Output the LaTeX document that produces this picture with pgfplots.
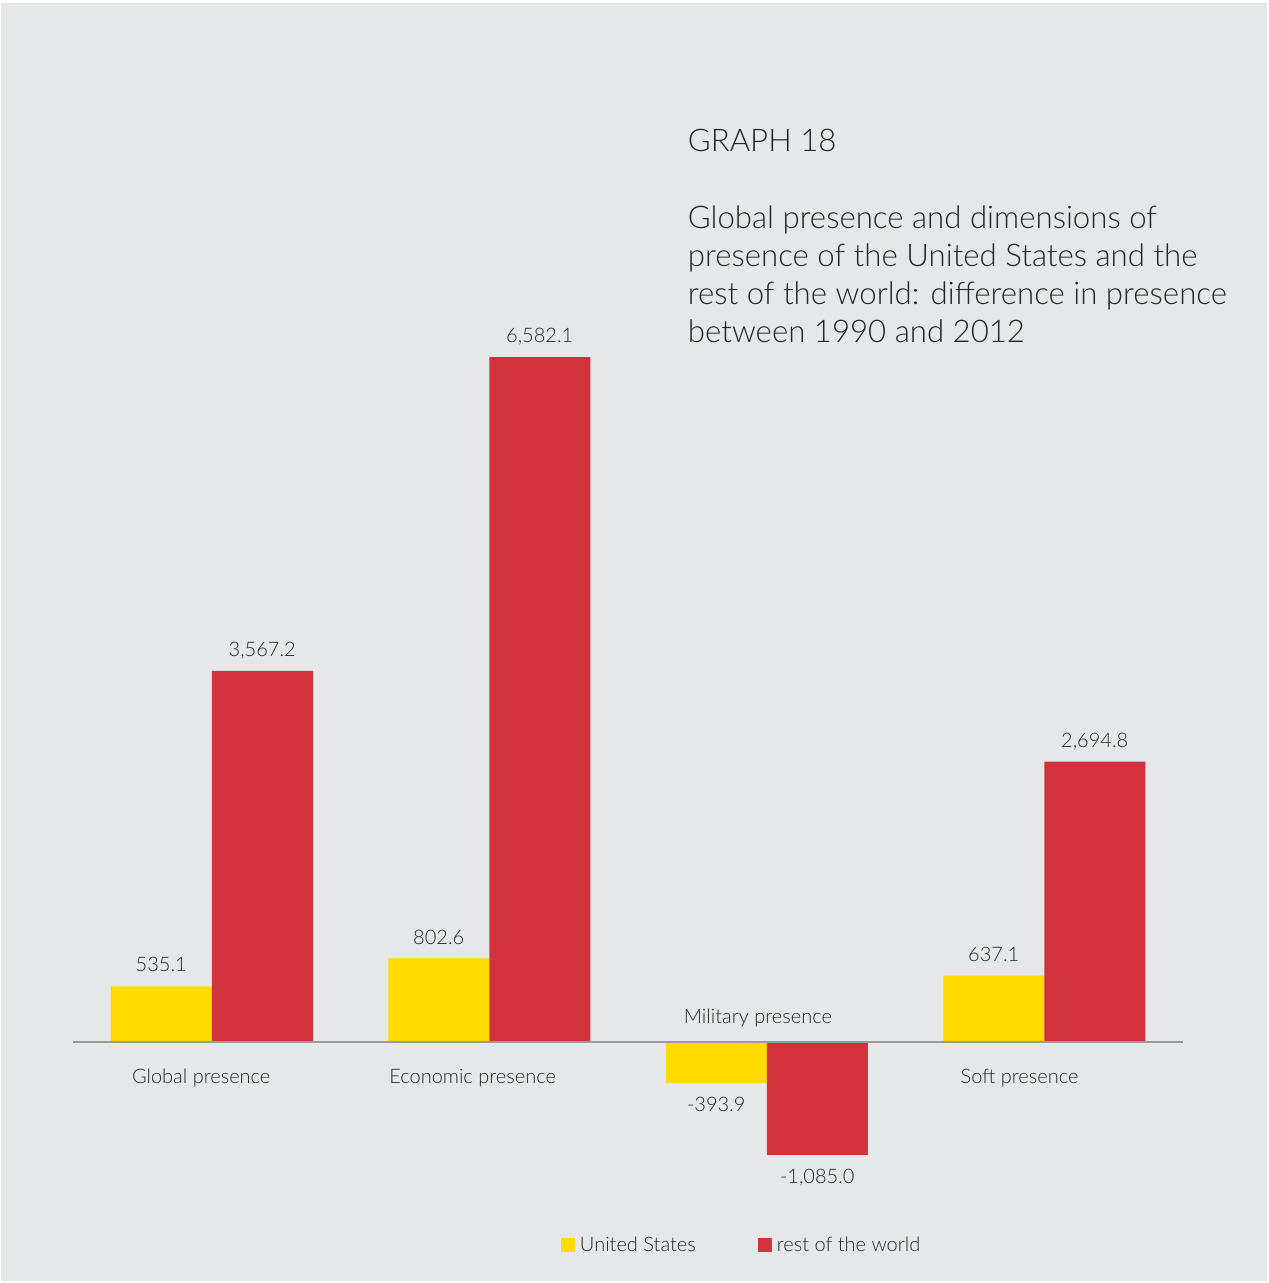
\documentclass[border=0pt]{standalone}
\usepackage{pgfplots}
\pgfplotsset{compat=1.18}
\usepackage{fontspec}
\setmainfont{Lato}[UprightFont={* Light}]
\definecolor{bg}{HTML}{E6E7E9}
\definecolor{usy}{HTML}{FFDB00}
\definecolor{rowr}{HTML}{D2323C}
\definecolor{txt}{HTML}{262626}
\definecolor{axl}{HTML}{9A9A9A}
\begin{document}
\begin{tikzpicture}
\begin{scope}[x=0.5pt,y=-0.5pt]
\fill[white] (0,0) rectangle (1268,1283);
\fill[bg] (1,3) rectangle (1267,1281);
\begin{scope}[every node/.style={anchor=base west, inner sep=0pt, text=txt, font=\fontsize{15.6}{18}\selectfont}]
\node at (687.5,152) {GRAPH 18};
\node at (687.5,229) {Global presence and dimensions of};
\node at (687.5,267) {presence of the United States and the};
\node at (687.5,305) {rest of the world: difference in presence};
\node at (687.5,343) {between 1990 and 2012};
\end{scope}
\end{scope}
\begin{axis}[
  at={(36.5pt,-599.05pt)}, anchor=south west,
  scale only axis, width=555pt, height=442.3pt,
  xmin=-0.5, xmax=3.5, ymin=-1500, ymax=7000,
  hide axis, clip=false,
  ybar, bar width=50.5pt,
  nodes near coords,
  every node near coord/.append style={font=\fontsize{10}{12}\selectfont, text=txt, text height=7.2pt, text depth=0pt, inner sep=7pt},
  /pgf/number format/fixed,
  /pgf/number format/fixed zerofill,
  /pgf/number format/precision=1,
  /pgf/number format/1000 sep={,},
  /pgf/number format/assume math mode=true,
  legend columns=2,
  legend cell align=left,
  legend image code/.code={\fill[#1] (0pt,-3.5pt) rectangle (7pt,3.5pt);},
  legend style={at={(rel axis cs:0.4396,-0.0535)}, anchor=west, draw=none, fill=none,
    inner sep=0pt, outer sep=0pt, font=\fontsize{10}{12}\selectfont, text=txt,
    nodes={inner sep=2.5pt},
    /tikz/every even column/.append style={column sep=28.5pt}},
]
\addplot[fill=usy, draw=none, bar shift=-25.25pt] coordinates {(0,535.1) (1,802.6) (2,-393.9) (3,637.1)};
\addplot[fill=rowr, draw=none, bar shift=25.25pt] coordinates {(0,3567.2) (1,6582.1) (2,-1085.0) (3,2694.8)};
\legend{United States, rest of the world}
\draw[axl, line width=1pt] (axis cs:-0.5,0) -- (axis cs:3.5,0);
\begin{scope}[every node/.style={anchor=base, inner sep=0pt, text=txt, font=\fontsize{10}{12}\selectfont}]
\node at (axis cs:-0.038,0) [yshift=-20.5pt] {Global presence};
\node at (axis cs:0.940,0) [yshift=-20.5pt] {Economic presence};
\node at (axis cs:1.968,0) [yshift=9.5pt] {Military presence};
\node at (axis cs:2.911,0) [yshift=-20.5pt] {Soft presence};
\end{scope}
\end{axis}
\end{tikzpicture}
\end{document}
